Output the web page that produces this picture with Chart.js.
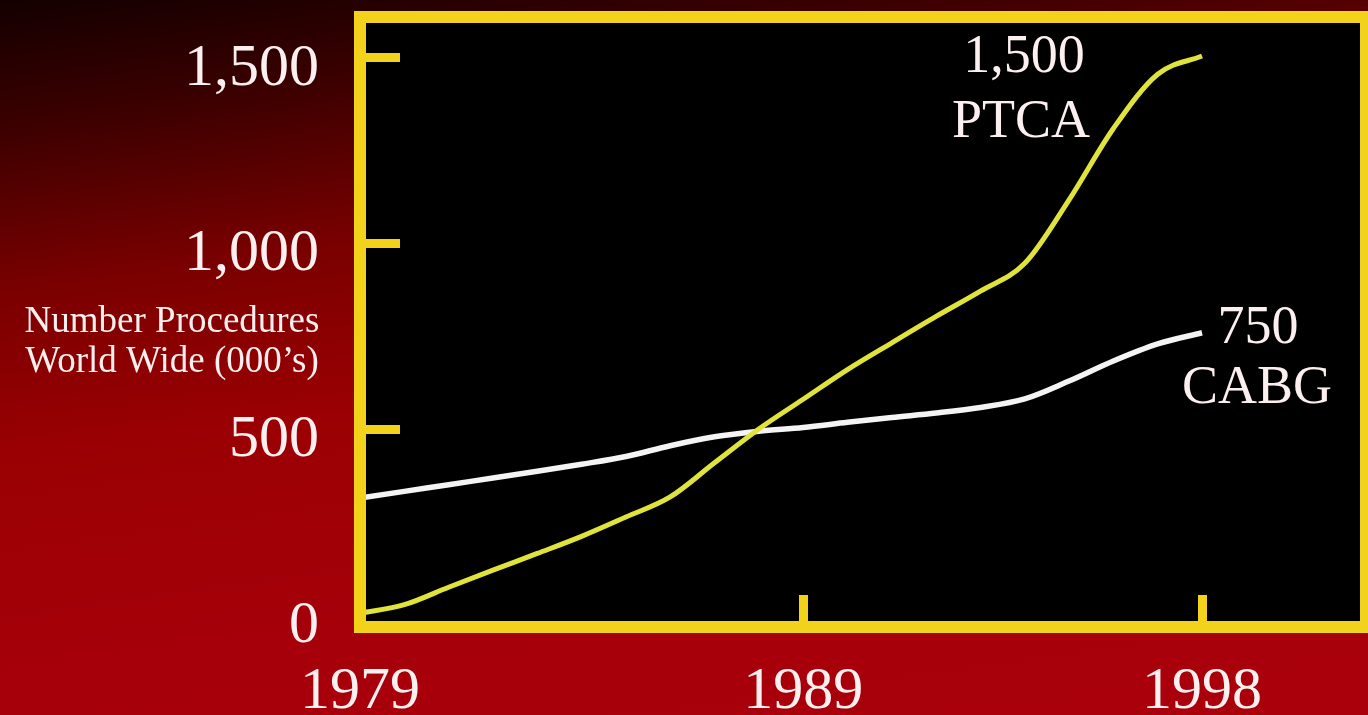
<!DOCTYPE html>
<html>
<head>
<meta charset="utf-8">
<title>PTCA vs CABG</title>
<script src="https://cdn.jsdelivr.net/npm/chart.js@4.4.1/dist/chart.umd.min.js"></script>
<style>
  html, body { margin: 0; padding: 0; }
  body {
    width: 1368px; height: 715px; overflow: hidden;
    background: linear-gradient(172deg, #140000 0%, #3c0000 14%, #7a0000 32%, #9a0003 50%, #a6000a 75%, #aa000c 100%);
  }
  canvas { display: block; }
</style>
</head>
<body>
<canvas id="myChart" width="1368" height="715"></canvas>
<script>
// data (thousands of procedures, world wide)
const years = [1979, 1980, 1981, 1982, 1983, 1984, 1985, 1986, 1987, 1988,
               1989, 1990, 1991, 1992, 1993, 1994, 1995, 1996, 1997, 1998];
const ptca = [5, 28, 75, 121, 166, 212, 264, 318, 410, 501,
              581, 661, 733, 804, 872, 947, 1118, 1310, 1456, 1505];
const cabg = [315, 333, 351, 369, 387, 406, 427, 456, 480, 495,
              505, 519, 532, 544, 559, 582, 630, 684, 730, 760];

const xTickYears = [1979, 1989, 1998];
const yTickValues = [0, 500, 1000, 1500];
const seriesNames = ['PTCA', 'CABG'];
const endLabels = ['1,500', '750'];
const yTitle = ['Number Procedures', 'World Wide (000\u2019s)'];

const yellow = '#f3d21c';
const textColor = '#fcefef';
const serif = '"Liberation Serif", "Times New Roman", serif';

const frame = {
  id: 'frame',
  beforeDraw(chart) {
    const { ctx, chartArea: a } = chart;
    ctx.save();
    ctx.fillStyle = '#000';
    ctx.fillRect(a.left, a.top, a.right - a.left, a.bottom - a.top);
    ctx.restore();
  },
  afterDraw(chart) {
    const { ctx, chartArea: a } = chart;
    const xs = chart.scales.x, ys = chart.scales.y;
    ctx.save();
    ctx.strokeStyle = yellow;
    ctx.lineWidth = 12;
    ctx.strokeRect(a.left, a.top, a.right - a.left, a.bottom - a.top);

    ctx.fillStyle = textColor;
    ctx.textAlign = 'center';
    ctx.textBaseline = 'alphabetic';

    // axis title, horizontal, left of the plot
    ctx.font = '37px ' + serif;
    ctx.fillText(yTitle[0], a.left - 188, 332);
    ctx.fillText(yTitle[1], a.left - 188, 372);

    // end-of-line labels
    const n = years.length - 1;
    const ex = xs.getPixelForValue(years[n]);
    const pY = ys.getPixelForValue(ptca[n]);
    const cY = ys.getPixelForValue(cabg[n]);
    ctx.font = '54px ' + serif;
    ctx.fillText(endLabels[0], ex - 178, pY + 16);
    ctx.fillText(seriesNames[0], ex - 181, pY + 81);
    ctx.fillText(endLabels[1], ex + 56, cY + 10);
    ctx.fillText(seriesNames[1], ex + 55, cY + 70);
    ctx.restore();
  }
};

const ctx = document.getElementById('myChart');

new Chart(ctx, {
  type: 'line',
  data: {
    datasets: [{
      label: seriesNames[0],
      data: years.map((y, i) => ({ x: y, y: ptca[i] })),
      borderColor: '#e0e43a',
      borderWidth: 5,
      pointRadius: 0,
      cubicInterpolationMode: 'monotone'
    }, {
      label: seriesNames[1],
      data: years.map((y, i) => ({ x: y, y: cabg[i] })),
      borderColor: '#f4f4f4',
      borderWidth: 5.5,
      pointRadius: 0,
      cubicInterpolationMode: 'monotone'
    }]
  },
  options: {
    responsive: false,
    animation: false,
    devicePixelRatio: 1,
    layout: { padding: { left: 0, top: 17, right: 2, bottom: 0 } },
    plugins: {
      legend: { display: false },
      tooltip: { enabled: false }
    },
    scales: {
      x: {
        type: 'linear',
        min: 1979,
        max: 2001.7,
        afterBuildTicks: s => { s.ticks = xTickYears.map(v => ({ value: v })); },
        afterFit: s => { s.height = 88; s.paddingLeft = 0; s.paddingRight = 0; },
        border: { display: false },
        grid: {
          drawOnChartArea: false,
          tickLength: -32,
          tickWidth: 9,
          tickColor: c => (c.tick && c.tick.value === xTickYears[0]) ? 'rgba(0,0,0,0)' : yellow
        },
        ticks: {
          padding: 61,
          color: textColor,
          autoSkip: false,
          maxRotation: 0,
          font: { family: serif, size: 60 },
          callback: v => String(v)
        }
      },
      y: {
        type: 'linear',
        min: -32,
        max: 1610,
        afterBuildTicks: s => { s.ticks = yTickValues.map(v => ({ value: v })); },
        afterFit: s => { s.width = 360; s.paddingTop = 0; s.paddingBottom = 0; },
        border: { display: false },
        grid: {
          drawOnChartArea: false,
          tickLength: -40,
          tickWidth: 9,
          tickColor: c => (c.tick && c.tick.value === 0) ? 'rgba(0,0,0,0)' : yellow
        },
        ticks: {
          padding: 81,
          labelOffset: 11,
          color: textColor,
          font: { family: serif, size: 60 },
          callback: v => v.toLocaleString('en-US')
        }
      }
    }
  },
  plugins: [frame]
});
</script>
</body>
</html>
